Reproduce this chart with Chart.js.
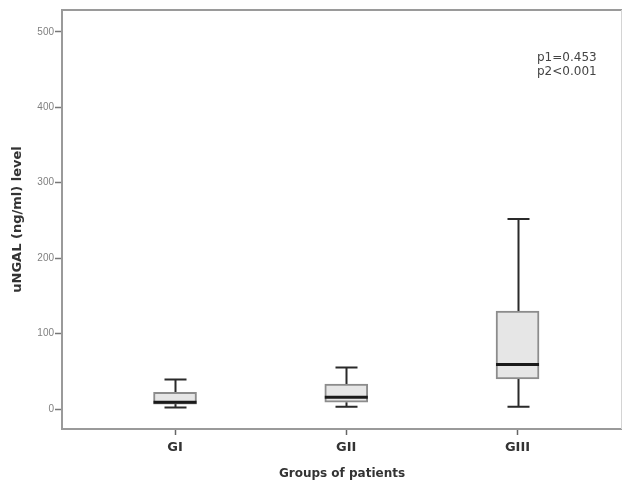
<!DOCTYPE html>
<html>
<head>
<meta charset="utf-8">
<script src="https://cdn.jsdelivr.net/npm/chart.js@4/dist/chart.umd.min.js"></script>
<style>
  html, body { margin: 0; padding: 0; background: #fff; }
  #wrap { width: 626px; height: 483px; }
</style>
</head>
<body>
<div id="wrap"><canvas id="chart"></canvas></div>
<script>
// box plot values (ng/ml)
const groups = ['GI', 'GII', 'GIII'];
const groupPos = [1, 2, 3];
const whiskerLow = [2, 3, 3];
const q1 = [6.5, 9, 40];
const median = [9, 15.5, 59];
const q3 = [22, 33, 130];
const whiskerHigh = [39, 55, 252];
const yTicks = [0, 100, 200, 300, 400, 500];
const notes = ['p1=0.453', 'p2<0.001'];

let boxData = groupPos.map((p, i) => ({ x: p, y: [q1[i], q3[i]] }));

// whiskers, caps, median line and frame
const boxExtras = {
  id: 'boxExtras',
  beforeDatasetsDraw(c) {
    let ctx = c.ctx, xs = c.scales.x, ys = c.scales.y;
    ctx.save();
    ctx.strokeStyle = '#2a2a2a';
    ctx.lineWidth = 2;
    groupPos.forEach((p, i) => {
      let px = Math.round(xs.getPixelForValue(p)) + 0.5;
      ctx.beginPath();
      ctx.moveTo(px, ys.getPixelForValue(q3[i]));
      ctx.lineTo(px, ys.getPixelForValue(whiskerHigh[i]));
      ctx.moveTo(px, ys.getPixelForValue(q1[i]));
      ctx.lineTo(px, ys.getPixelForValue(whiskerLow[i]));
      let hi = ys.getPixelForValue(whiskerHigh[i]);
      let lo = ys.getPixelForValue(whiskerLow[i]);
      ctx.moveTo(px - 11, hi); ctx.lineTo(px + 11, hi);
      ctx.moveTo(px - 11, lo); ctx.lineTo(px + 11, lo);
      ctx.stroke();
    });
    ctx.restore();
  },
  afterDatasetsDraw(c) {
    let ctx = c.ctx, xs = c.scales.x, ys = c.scales.y, a = c.chartArea;
    ctx.save();
    ctx.strokeStyle = '#1a1a1a';
    ctx.lineWidth = 3;
    groupPos.forEach((p, i) => {
      let px = xs.getPixelForValue(p);
      let m = ys.getPixelForValue(median[i]);
      ctx.beginPath();
      ctx.moveTo(px - 21.5, m); ctx.lineTo(px + 21.5, m);
      ctx.stroke();
    });
    // frame
    ctx.strokeStyle = '#9a9a9a';
    ctx.lineWidth = 2;
    ctx.beginPath();
    ctx.moveTo(a.right, a.top); ctx.lineTo(a.left, a.top);
    ctx.lineTo(a.left, a.bottom); ctx.lineTo(a.right, a.bottom);
    ctx.stroke();
    ctx.strokeStyle = '#d4d4d4';
    ctx.lineWidth = 1;
    ctx.beginPath();
    ctx.moveTo(a.right - 0.5, a.top); ctx.lineTo(a.right - 0.5, a.bottom);
    ctx.stroke();
    // p values
    ctx.fillStyle = '#444';
    ctx.font = '12px "DejaVu Sans", sans-serif';
    ctx.textBaseline = 'middle';
    notes.forEach((t, i) => ctx.fillText(t, 537, 58 + i * 14));
    ctx.restore();
  }
};

let chart = document.querySelector('#chart').getContext('2d');

new Chart(chart, {
  type: 'bar',
  data: {
    datasets: [{
      data: boxData,
      backgroundColor: '#e6e6e6',
      borderColor: '#8c8c8c',
      borderWidth: 2,
      borderSkipped: false,
      barThickness: 43
    }]
  },
  options: {
    responsive: true,
    maintainAspectRatio: false,
    animation: false,
    layout: { padding: { top: 10, right: 4, left: 0, bottom: 0 } },
    plugins: { legend: { display: false }, tooltip: { enabled: false } },
    scales: {
      x: {
        type: 'linear',
        min: 0.34,
        max: 3.61,
        offset: false,
        afterBuildTicks: s => { s.ticks = groupPos.map(v => ({ value: v })); },
        afterFit: s => { s.height = 54; },
        border: { display: false },
        grid: { offset: false, drawOnChartArea: false, drawTicks: true, tickLength: 6, tickColor: '#666', tickWidth: 1.5 },
        ticks: {
          padding: 5,
          color: '#333',
          font: { family: '"DejaVu Sans", sans-serif', size: 13, weight: 'bold' },
          callback: v => groups[v - 1]
        },
        title: {
          display: true,
          text: 'Groups of patients',
          color: '#333',
          padding: { top: 0, bottom: 2 },
          font: { family: '"DejaVu Sans", sans-serif', size: 12, weight: 'bold' }
        }
      },
      y: {
        min: -26.5,
        max: 529,
        afterBuildTicks: s => { s.ticks = yTicks.map(v => ({ value: v })); },
        afterFit: s => { s.width = 62; },
        border: { display: false },
        grid: { drawOnChartArea: false, drawTicks: true, tickLength: 7, tickColor: '#777', tickWidth: 1.5 },
        ticks: {
          padding: 1,
          color: '#808080',
          font: { family: '"Liberation Sans", Arial, sans-serif', size: 10 }
        },
        title: {
          display: true,
          text: 'uNGAL (ng/ml) level',
          color: '#333',
          padding: { top: 10, bottom: 0 },
          font: { family: '"DejaVu Sans", sans-serif', size: 13, weight: 'bold' }
        }
      }
    }
  },
  plugins: [boxExtras]
});
</script>
</body>
</html>
